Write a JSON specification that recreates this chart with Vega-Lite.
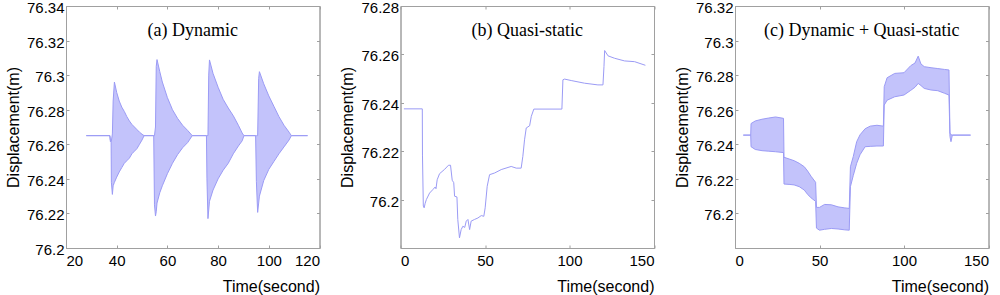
{
  "$schema": "https://vega.github.io/schema/vega-lite/v6.json",
  "background": "white",
  "padding": {"left": 4, "top": 0, "right": 0, "bottom": 0},
  "bounds": "flush",
  "spacing": 80.5,
  "config": {
    "view": {"stroke": "#a0a0a0", "strokeWidth": 1},
    "axis": {"domainColor": "#a0a0a0", "tickColor": "#a0a0a0", "labelColor": "#000000", "labelFont": "Liberation Sans", "labelFontSize": 15, "titleFont": "Liberation Sans", "titleFontSize": 16, "titleFontWeight": "normal", "titleColor": "#000000", "grid": false, "tickSize": -3},
    "title": {"font": "Liberation Serif", "fontSize": 18, "fontWeight": "normal", "color": "#000000"}
  },
  "datasets": {
    "a": [
      {"t": 28.0, "hi": 76.265, "lo": 76.265},
      {"t": 37.3, "hi": 76.265, "lo": 76.265},
      {"t": 37.5, "hi": 76.2625, "lo": 76.2615},
      {"t": 37.8, "hi": 76.262, "lo": 76.262},
      {"t": 37.9, "hi": 76.262, "lo": 76.238},
      {"t": 38.3, "hi": 76.266, "lo": 76.231},
      {"t": 38.6, "hi": 76.285, "lo": 76.236},
      {"t": 39.1, "hi": 76.296, "lo": 76.238},
      {"t": 40.0, "hi": 76.29, "lo": 76.241},
      {"t": 41.0, "hi": 76.285, "lo": 76.244},
      {"t": 42.0, "hi": 76.2815, "lo": 76.2465},
      {"t": 43.0, "hi": 76.279, "lo": 76.249},
      {"t": 44.0, "hi": 76.276, "lo": 76.2505},
      {"t": 45.0, "hi": 76.2735, "lo": 76.252},
      {"t": 46.0, "hi": 76.2715, "lo": 76.2545},
      {"t": 47.0, "hi": 76.27, "lo": 76.256},
      {"t": 48.0, "hi": 76.2685, "lo": 76.2575},
      {"t": 49.0, "hi": 76.267, "lo": 76.26},
      {"t": 50.0, "hi": 76.2658, "lo": 76.2625},
      {"t": 50.8, "hi": 76.265, "lo": 76.265},
      {"t": 54.6, "hi": 76.265, "lo": 76.265},
      {"t": 54.9, "hi": 76.265, "lo": 76.225},
      {"t": 55.3, "hi": 76.27, "lo": 76.2185},
      {"t": 55.6, "hi": 76.305, "lo": 76.221},
      {"t": 55.9, "hi": 76.309, "lo": 76.226},
      {"t": 57.0, "hi": 76.302, "lo": 76.232},
      {"t": 58.0, "hi": 76.296, "lo": 76.236},
      {"t": 60.0, "hi": 76.287, "lo": 76.243},
      {"t": 62.0, "hi": 76.28, "lo": 76.249},
      {"t": 64.0, "hi": 76.275, "lo": 76.254},
      {"t": 66.0, "hi": 76.271, "lo": 76.258},
      {"t": 68.0, "hi": 76.268, "lo": 76.261},
      {"t": 69.8, "hi": 76.265, "lo": 76.265},
      {"t": 75.4, "hi": 76.265, "lo": 76.265},
      {"t": 75.6, "hi": 76.265, "lo": 76.24},
      {"t": 76.0, "hi": 76.265, "lo": 76.217},
      {"t": 76.3, "hi": 76.3, "lo": 76.222},
      {"t": 76.6, "hi": 76.3088, "lo": 76.227},
      {"t": 78.0, "hi": 76.301, "lo": 76.2335},
      {"t": 80.0, "hi": 76.293, "lo": 76.24},
      {"t": 82.0, "hi": 76.286, "lo": 76.245},
      {"t": 84.0, "hi": 76.281, "lo": 76.249},
      {"t": 86.0, "hi": 76.2765, "lo": 76.2545},
      {"t": 88.0, "hi": 76.271, "lo": 76.259},
      {"t": 89.5, "hi": 76.2665, "lo": 76.262},
      {"t": 90.2, "hi": 76.265, "lo": 76.265},
      {"t": 94.8, "hi": 76.265, "lo": 76.265},
      {"t": 95.1, "hi": 76.265, "lo": 76.2385},
      {"t": 95.6, "hi": 76.265, "lo": 76.2206},
      {"t": 96.0, "hi": 76.298, "lo": 76.226},
      {"t": 96.3, "hi": 76.302, "lo": 76.23},
      {"t": 98.0, "hi": 76.295, "lo": 76.239},
      {"t": 100.0, "hi": 76.288, "lo": 76.2455},
      {"t": 102.0, "hi": 76.282, "lo": 76.25},
      {"t": 104.0, "hi": 76.276, "lo": 76.2545},
      {"t": 106.0, "hi": 76.271, "lo": 76.2585},
      {"t": 108.0, "hi": 76.267, "lo": 76.2625},
      {"t": 108.9, "hi": 76.265, "lo": 76.265},
      {"t": 115.3, "hi": 76.265, "lo": 76.265}
    ],
    "b": [
      {"t": 2.0, "v": 76.2375},
      {"t": 12.9, "v": 76.2375},
      {"t": 13.0, "v": 76.2184},
      {"t": 13.5, "v": 76.1973},
      {"t": 14.0, "v": 76.1966},
      {"t": 14.6, "v": 76.1985},
      {"t": 15.3, "v": 76.2},
      {"t": 17.2, "v": 76.2027},
      {"t": 19.1, "v": 76.2041},
      {"t": 20.5, "v": 76.2052},
      {"t": 21.0, "v": 76.2045},
      {"t": 21.7, "v": 76.2082},
      {"t": 23.1, "v": 76.2107},
      {"t": 26.1, "v": 76.2125},
      {"t": 28.4, "v": 76.2142},
      {"t": 29.6, "v": 76.2142},
      {"t": 30.6, "v": 76.208},
      {"t": 31.5, "v": 76.207},
      {"t": 32.0, "v": 76.2014},
      {"t": 33.4, "v": 76.2011},
      {"t": 33.9, "v": 76.1918},
      {"t": 34.9, "v": 76.1842},
      {"t": 35.9, "v": 76.1876},
      {"t": 36.9, "v": 76.189},
      {"t": 38.0, "v": 76.1885},
      {"t": 38.9, "v": 76.1911},
      {"t": 39.9, "v": 76.1918},
      {"t": 40.9, "v": 76.1876},
      {"t": 41.8, "v": 76.1911},
      {"t": 43.8, "v": 76.1918},
      {"t": 45.8, "v": 76.1924},
      {"t": 47.8, "v": 76.1934},
      {"t": 49.3, "v": 76.1931},
      {"t": 50.1, "v": 76.1966},
      {"t": 51.3, "v": 76.2055},
      {"t": 52.7, "v": 76.2103},
      {"t": 55.7, "v": 76.211},
      {"t": 59.6, "v": 76.2124},
      {"t": 65.5, "v": 76.2137},
      {"t": 68.5, "v": 76.213},
      {"t": 71.4, "v": 76.213},
      {"t": 72.4, "v": 76.2179},
      {"t": 73.4, "v": 76.2247},
      {"t": 74.4, "v": 76.2296},
      {"t": 76.4, "v": 76.2305},
      {"t": 77.4, "v": 76.2344},
      {"t": 78.9, "v": 76.2374},
      {"t": 95.5, "v": 76.2374},
      {"t": 96.1, "v": 76.2495},
      {"t": 97.1, "v": 76.2498},
      {"t": 101.0, "v": 76.2492},
      {"t": 108.9, "v": 76.2481},
      {"t": 116.8, "v": 76.2474},
      {"t": 119.8, "v": 76.2474},
      {"t": 120.4, "v": 76.255},
      {"t": 120.8, "v": 76.2616},
      {"t": 122.8, "v": 76.2594},
      {"t": 126.7, "v": 76.2584},
      {"t": 132.6, "v": 76.2573},
      {"t": 138.5, "v": 76.257},
      {"t": 144.9, "v": 76.2555}
    ],
    "c": [
      {"t": 4.9, "hi": 76.2453, "lo": 76.2453},
      {"t": 9.3, "hi": 76.2453, "lo": 76.2453},
      {"t": 9.5, "hi": 76.252, "lo": 76.2386},
      {"t": 12.0, "hi": 76.2535, "lo": 76.237},
      {"t": 16.0, "hi": 76.2545, "lo": 76.2363},
      {"t": 20.0, "hi": 76.2552, "lo": 76.236},
      {"t": 24.0, "hi": 76.2558, "lo": 76.2357},
      {"t": 28.7, "hi": 76.255, "lo": 76.2352},
      {"t": 29.0, "hi": 76.2325, "lo": 76.217},
      {"t": 32.0, "hi": 76.2315, "lo": 76.2168},
      {"t": 35.0, "hi": 76.2305, "lo": 76.2165},
      {"t": 38.0, "hi": 76.229, "lo": 76.2155},
      {"t": 41.0, "hi": 76.227, "lo": 76.2135},
      {"t": 43.0, "hi": 76.2245, "lo": 76.211},
      {"t": 45.0, "hi": 76.2215, "lo": 76.209},
      {"t": 47.7, "hi": 76.218, "lo": 76.207},
      {"t": 48.2, "hi": 76.2035, "lo": 76.1915},
      {"t": 50.0, "hi": 76.2035, "lo": 76.1903},
      {"t": 53.0, "hi": 76.2052, "lo": 76.1908},
      {"t": 57.0, "hi": 76.205, "lo": 76.1913},
      {"t": 61.0, "hi": 76.2038, "lo": 76.191},
      {"t": 65.0, "hi": 76.2032, "lo": 76.1905},
      {"t": 67.6, "hi": 76.2029, "lo": 76.1903},
      {"t": 68.3, "hi": 76.227, "lo": 76.2155},
      {"t": 70.0, "hi": 76.233, "lo": 76.222},
      {"t": 72.0, "hi": 76.2415, "lo": 76.229},
      {"t": 74.0, "hi": 76.2455, "lo": 76.234},
      {"t": 77.0, "hi": 76.249, "lo": 76.2386},
      {"t": 80.0, "hi": 76.2505, "lo": 76.2388},
      {"t": 84.0, "hi": 76.251, "lo": 76.239},
      {"t": 87.8, "hi": 76.2505, "lo": 76.239},
      {"t": 88.3, "hi": 76.2733, "lo": 76.2627},
      {"t": 90.0, "hi": 76.2785, "lo": 76.2655},
      {"t": 94.5, "hi": 76.281, "lo": 76.2675},
      {"t": 100.0, "hi": 76.2814, "lo": 76.2685},
      {"t": 104.0, "hi": 76.2855, "lo": 76.2712},
      {"t": 106.5, "hi": 76.287, "lo": 76.273},
      {"t": 108.4, "hi": 76.291, "lo": 76.2752},
      {"t": 110.0, "hi": 76.2865, "lo": 76.274},
      {"t": 112.0, "hi": 76.2849, "lo": 76.2723},
      {"t": 116.0, "hi": 76.2843, "lo": 76.2714},
      {"t": 120.0, "hi": 76.2838, "lo": 76.271},
      {"t": 124.0, "hi": 76.2833, "lo": 76.2695},
      {"t": 126.6, "hi": 76.283, "lo": 76.2685},
      {"t": 127.2, "hi": 76.2465, "lo": 76.2445},
      {"t": 127.8, "hi": 76.2455, "lo": 76.2415},
      {"t": 128.6, "hi": 76.2453, "lo": 76.2453},
      {"t": 139.4, "hi": 76.2453, "lo": 76.2453}
    ]
  },
  "hconcat": [
    {
      "width": 253.5, "height": 242,
      "title": {"text": "(a) Dynamic", "frame": "group", "anchor": "middle", "baseline": "middle", "offset": 0, "dy": 48},
      "data": {"name": "a"},
      "layer": [
        {
          "mark": {"type": "area", "color": "#c3c3fb", "opacity": 1},
          "encoding": {
            "x": {"field": "t", "type": "quantitative", "scale": {"domain": [20, 120], "nice": false, "zero": false},
                  "axis": {"orient": "bottom", "values": [20, 40, 60, 80, 100, 120], "labelPadding": 8, "title": "Time(second)", "titleX": 253.5, "titleY": 38, "titleAlign": "right", "titleBaseline": "middle", "titleAngle": 0}},
            "y": {"field": "hi", "type": "quantitative", "scale": {"domain": [76.2, 76.34], "nice": false, "zero": false},
                  "axis": {"orient": "left", "values": [76.2, 76.22, 76.24, 76.26, 76.28, 76.3, 76.32, 76.34], "format": ".2~f", "labelPadding": 5, "labelOffset": 1.5, "title": "Displacement(m)", "titleX": -53, "titleY": 121, "titleAngle": -90, "titleAlign": "center", "titleBaseline": "middle"}},
            "y2": {"field": "lo"}
          }
        },
        {
          "mark": {"type": "line", "color": "#9b9bf5", "strokeWidth": 1},
          "encoding": {
            "x": {"field": "t", "type": "quantitative", "scale": {"domain": [20, 120], "nice": false, "zero": false},
                  "axis": {"orient": "top", "values": [20, 40, 60, 80, 100, 120], "labels": false, "title": null}},
            "y": {"field": "hi", "type": "quantitative", "scale": {"domain": [76.2, 76.34], "nice": false, "zero": false},
                  "axis": {"orient": "right", "values": [76.2, 76.22, 76.24, 76.26, 76.28, 76.3, 76.32, 76.34], "labels": false, "title": null}}
          }
        },
        {
          "mark": {"type": "line", "color": "#9b9bf5", "strokeWidth": 1},
          "encoding": {
            "x": {"field": "t", "type": "quantitative", "scale": {"domain": [20, 120], "nice": false, "zero": false}, "axis": null},
            "y": {"field": "lo", "type": "quantitative", "scale": {"domain": [76.2, 76.34], "nice": false, "zero": false}, "axis": null}
          }
        }
      ],
      "resolve": {"scale": {"x": "independent", "y": "independent"}, "axis": {"x": "independent", "y": "independent"}}
    },
    {
      "width": 253.5, "height": 242,
      "title": {"text": "(b) Quasi-static", "frame": "group", "anchor": "middle", "baseline": "middle", "offset": 0, "dy": 48},
      "data": {"name": "b"},
      "layer": [
        {
          "mark": {"type": "line", "color": "#9b9bf5", "strokeWidth": 1},
          "encoding": {
            "x": {"field": "t", "type": "quantitative", "scale": {"domain": [0, 150], "nice": false, "zero": false},
                  "axis": {"orient": "bottom", "values": [0, 50, 100, 150], "labelPadding": 8, "title": "Time(second)", "titleX": 253.5, "titleY": 38, "titleAlign": "right", "titleBaseline": "middle", "titleAngle": 0}},
            "y": {"field": "v", "type": "quantitative", "scale": {"domain": [76.18, 76.28], "nice": false, "zero": false},
                  "axis": {"orient": "left", "values": [76.2, 76.22, 76.24, 76.26, 76.28], "format": ".2~f", "labelPadding": 5, "labelOffset": 1.5, "title": "Displacement(m)", "titleX": -53, "titleY": 121, "titleAngle": -90, "titleAlign": "center", "titleBaseline": "middle"}}
          }
        },
        {
          "mark": {"type": "line", "opacity": 0},
          "encoding": {
            "x": {"field": "t", "type": "quantitative", "scale": {"domain": [0, 150], "nice": false, "zero": false},
                  "axis": {"orient": "top", "values": [0, 50, 100, 150], "labels": false, "title": null}},
            "y": {"field": "v", "type": "quantitative", "scale": {"domain": [76.18, 76.28], "nice": false, "zero": false},
                  "axis": {"orient": "right", "values": [76.18, 76.2, 76.22, 76.24, 76.26, 76.28], "labels": false, "title": null}}
          }
        }
      ],
      "resolve": {"scale": {"x": "independent", "y": "independent"}, "axis": {"x": "independent", "y": "independent"}}
    },
    {
      "width": 253.5, "height": 242,
      "title": {"text": "(c) Dynamic + Quasi-static", "frame": "group", "anchor": "middle", "baseline": "middle", "offset": 0, "dy": 48},
      "data": {"name": "c"},
      "layer": [
        {
          "mark": {"type": "area", "color": "#c3c3fb", "opacity": 1},
          "encoding": {
            "x": {"field": "t", "type": "quantitative", "scale": {"domain": [0, 150], "nice": false, "zero": false},
                  "axis": {"orient": "bottom", "values": [0, 50, 100, 150], "labelPadding": 8, "title": "Time(second)", "titleX": 253.5, "titleY": 38, "titleAlign": "right", "titleBaseline": "middle", "titleAngle": 0}},
            "y": {"field": "hi", "type": "quantitative", "scale": {"domain": [76.18, 76.32], "nice": false, "zero": false},
                  "axis": {"orient": "left", "values": [76.2, 76.22, 76.24, 76.26, 76.28, 76.3, 76.32], "format": ".2~f", "labelPadding": 5, "labelOffset": 1.5, "title": "Displacement(m)", "titleX": -53, "titleY": 121, "titleAngle": -90, "titleAlign": "center", "titleBaseline": "middle"}},
            "y2": {"field": "lo"}
          }
        },
        {
          "mark": {"type": "line", "color": "#9b9bf5", "strokeWidth": 1},
          "encoding": {
            "x": {"field": "t", "type": "quantitative", "scale": {"domain": [0, 150], "nice": false, "zero": false},
                  "axis": {"orient": "top", "values": [0, 50, 100, 150], "labels": false, "title": null}},
            "y": {"field": "hi", "type": "quantitative", "scale": {"domain": [76.18, 76.32], "nice": false, "zero": false},
                  "axis": {"orient": "right", "values": [76.18, 76.2, 76.22, 76.24, 76.26, 76.28, 76.3, 76.32], "labels": false, "title": null}}
          }
        },
        {
          "mark": {"type": "line", "color": "#9b9bf5", "strokeWidth": 1},
          "encoding": {
            "x": {"field": "t", "type": "quantitative", "scale": {"domain": [0, 150], "nice": false, "zero": false}, "axis": null},
            "y": {"field": "lo", "type": "quantitative", "scale": {"domain": [76.18, 76.32], "nice": false, "zero": false}, "axis": null}
          }
        }
      ],
      "resolve": {"scale": {"x": "independent", "y": "independent"}, "axis": {"x": "independent", "y": "independent"}}
    }
  ]
}
